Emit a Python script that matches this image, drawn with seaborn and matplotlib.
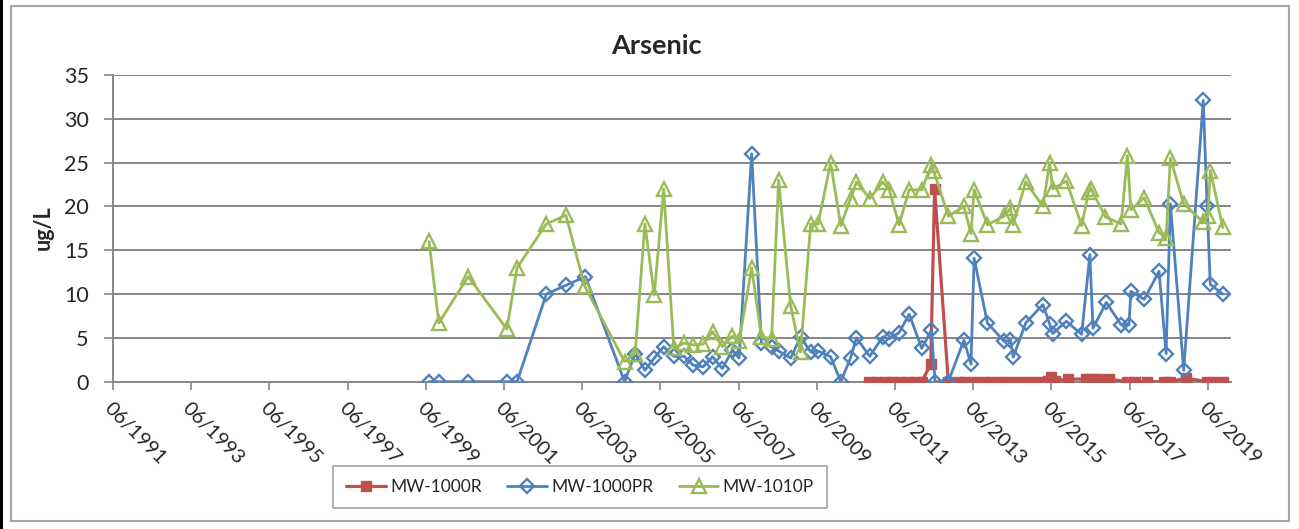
import numpy as np
import pandas as pd
import matplotlib
matplotlib.use("Agg")
import matplotlib.pyplot as plt
from matplotlib.patches import Rectangle
import seaborn as sns

# ---------------- data (decimal years, ug/L) ----------------
red_years = [2010.75, 2010.95, 2011.15, 2011.35, 2011.55, 2011.75, 2011.95, 2012.10,
             2012.33, 2012.43, 2012.78, 2013.05, 2013.20, 2013.41, 2013.67, 2013.88,
             2014.13, 2014.35, 2014.65, 2014.90, 2015.16, 2015.33, 2015.40, 2015.50,
             2015.85, 2016.30, 2016.45, 2016.60, 2016.90, 2017.35, 2017.55, 2017.86,
             2018.30, 2018.45, 2018.85, 2019.40, 2019.55, 2019.80]
red_vals = [0, 0, 0, 0, 0, 0, 0, 0,
            2.0, 22.0, 0, 0, 0, 0, 0, 0,
            0, 0, 0, 0, 0, 0.1, 0.5, 0.1,
            0.3, 0.3, 0.3, 0.3, 0.3, 0, 0, 0,
            0, 0, 0.4, 0, 0, 0]

blue_years = [1999.50, 1999.75, 2000.50, 2001.49, 2001.75, 2002.50, 2003.00, 2003.50,
              2004.50, 2004.77, 2005.02, 2005.26, 2005.50, 2005.76, 2006.02, 2006.25,
              2006.51, 2006.75, 2007.00, 2007.26, 2007.43, 2007.75, 2008.00, 2008.26,
              2008.44, 2008.75, 2009.00, 2009.26, 2009.45, 2009.77, 2010.03, 2010.28,
              2010.43, 2010.77, 2011.10, 2011.27, 2011.52, 2011.78, 2012.10, 2012.35,
              2012.44, 2012.78, 2013.18, 2013.36, 2013.44, 2013.78, 2014.21, 2014.37,
              2014.44, 2014.76, 2015.20, 2015.37, 2015.45, 2015.80, 2016.19, 2016.40,
              2016.48, 2016.82, 2017.20, 2017.40, 2017.45, 2017.79, 2018.17, 2018.35,
              2018.46, 2018.80, 2019.30, 2019.40, 2019.48, 2019.80]
blue_vals = [0, 0, 0, 0, 0, 10.0, 11.0, 12.0,
             0, 3.2, 1.3, 2.7, 4.0, 2.9, 2.9, 1.9,
             1.7, 2.85, 1.5, 3.6, 2.7, 26.0, 4.4, 4.0,
             3.5, 2.7, 5.1, 3.4, 3.5, 2.85, 0, 2.7,
             5.0, 2.9, 5.1, 4.9, 5.6, 7.7, 3.8, 5.9,
             0, 0, 4.75, 2.0, 14.1, 6.7, 4.6, 4.75,
             2.8, 6.7, 8.8, 6.6, 5.5, 6.9, 5.4, 14.5,
             6.1, 9.05, 6.5, 6.5, 10.3, 9.4, 12.6, 3.2,
             20.3, 1.3, 32.1, 20.0, 11.1, 10.0]

green_years = [1999.50, 1999.75, 2000.50, 2001.49, 2001.75, 2002.50, 2003.00, 2003.48,
               2004.50, 2004.77, 2005.02, 2005.26, 2005.50, 2005.76, 2006.02, 2006.25,
               2006.51, 2006.75, 2007.00, 2007.26, 2007.43, 2007.75, 2008.00, 2008.26,
               2008.44, 2008.75, 2009.00, 2009.26, 2009.45, 2009.77, 2010.03, 2010.28,
               2010.43, 2010.77, 2011.10, 2011.27, 2011.52, 2011.78, 2012.10, 2012.35,
               2012.41, 2012.78, 2013.18, 2013.36, 2013.44, 2013.78, 2014.21, 2014.37,
               2014.44, 2014.76, 2015.20, 2015.37, 2015.45, 2015.80, 2016.19, 2016.37,
               2016.43, 2016.80, 2017.20, 2017.36, 2017.45, 2017.79, 2018.17, 2018.35,
               2018.46, 2018.80, 2019.30, 2019.42, 2019.48, 2019.80]
green_vals = [16.0, 6.7, 12.0, 6.0, 13.0, 18.0, 19.0, 10.9,
              2.3, 3.2, 18.0, 9.9, 22.0, 3.8, 4.4, 4.2,
              4.3, 5.7, 4.0, 5.2, 4.6, 13.0, 5.1, 4.9,
              23.0, 8.6, 3.4, 18.0, 18.0, 25.0, 17.8, 20.9,
              22.8, 20.9, 22.8, 21.9, 17.9, 21.9, 21.9, 24.7,
              24.0, 18.9, 20.0, 16.9, 21.9, 17.9, 18.9, 19.8,
              17.9, 22.8, 20.0, 25.0, 22.0, 22.9, 17.8, 21.7,
              22.0, 18.8, 18.0, 25.8, 19.6, 21.0, 17.0, 16.4,
              25.5, 20.3, 18.2, 18.9, 24.1, 17.6]

series_names = ["MW-1000R", "MW-1000PR", "MW-1010P"]
tick_years = list(range(1991, 2020, 2))
tick_labels = [f"06/{y}" for y in tick_years]
y_ticks = [0, 5, 10, 15, 20, 25, 30, 35]

# ---------------- styling ----------------
sns.set_theme(style="white")
plt.rcParams["font.family"] = ["Lato", "DejaVu Sans"]

W, H = 1299, 529
fig = plt.figure(figsize=(W / 100, H / 100), dpi=100)
ax = fig.add_axes([113 / W, 1 - 381.7 / H, (1231 - 113) / W, (381.7 - 75) / H])

grid_c = "#868686"
for yv in y_ticks[1:]:
    ax.axhline(yv, color=grid_c, lw=1.4, zorder=0)

styles = [
    dict(color="#C0504D", marker="s", markersize=7.2, markerfacecolor="#C0504D",
         markeredgecolor="#C0504D", markeredgewidth=1.0, linewidth=2.3),
    dict(color="#4F81BD", marker="D", markersize=7.2, markerfacecolor="none",
         markeredgecolor="#4F81BD", markeredgewidth=1.7, linewidth=2.0),
    dict(color="#9BBB59", marker="^", markersize=9.5, markerfacecolor="none",
         markeredgecolor="#9BBB59", markeredgewidth=1.7, linewidth=2.0),
]
all_data = [(red_years, red_vals), (blue_years, blue_vals), (green_years, green_vals)]
for (xs, ys), name, st in zip(all_data, series_names, styles):
    df = pd.DataFrame({"year": xs, "value": ys})
    sns.lineplot(data=df, x="year", y="value", ax=ax, estimator=None, sort=False,
                 label=name, zorder=3, **st)

x0 = 1991 + 5 / 12
ax.set_xlim(x0, 2020.01)
ax.set_ylim(0, 35)
ax.set_xticks([y + 5 / 12 for y in tick_years])
ax.set_xticklabels(tick_labels, rotation=-45, ha="left", va="top",
                   rotation_mode="anchor", fontsize=14.5)
ax.set_yticks(y_ticks)
ax.set_yticklabels([str(v) for v in y_ticks], fontsize=15.5)
ax.tick_params(axis="x", bottom=True, length=6, width=1.2, color=grid_c,
               direction="out", pad=7)
ax.tick_params(axis="y", left=True, length=6.5, width=1.2, color=grid_c,
               direction="out", pad=11)
ax.set_xlabel("")
ax.set_ylabel("")
for s in ["top", "right"]:
    ax.spines[s].set_visible(False)
for s in ["left", "bottom"]:
    ax.spines[s].set_color(grid_c)
    ax.spines[s].set_linewidth(1.4)

ax.get_legend().remove()
handles, labels = ax.get_legend_handles_labels()
leg = fig.legend(handles, labels, loc="center", bbox_to_anchor=(580 / W, 1 - 487 / H),
                 ncol=3, fontsize=12.5, frameon=True, fancybox=False,
                 handlelength=2.3, columnspacing=1.45, handletextpad=0.25,
                 borderpad=0.75)
leg.get_frame().set_edgecolor("#8C8C8C")
leg.get_frame().set_linewidth(1.2)

fig.text(656 / W, 1 - 54.3 / H, "Arsenic", ha="center", va="baseline",
         fontsize=19.5, fontweight="bold")
fig.text(43.5 / W, 1 - 228 / H, "ug/L", ha="center", va="center", rotation=90,
         fontsize=15.5, fontweight="bold")

fig.patches.append(Rectangle((11 / W, 1 - 521 / H), (1289 - 11) / W, (521 - 6) / H,
                             transform=fig.transFigure, fill=False,
                             edgecolor="#A6A6A6", linewidth=1.5))
fig.patches.append(Rectangle((0, 0), 3 / W, 1, transform=fig.transFigure,
                             facecolor="black", edgecolor="none"))

fig.savefig("out.png", dpi=100, facecolor="white")
